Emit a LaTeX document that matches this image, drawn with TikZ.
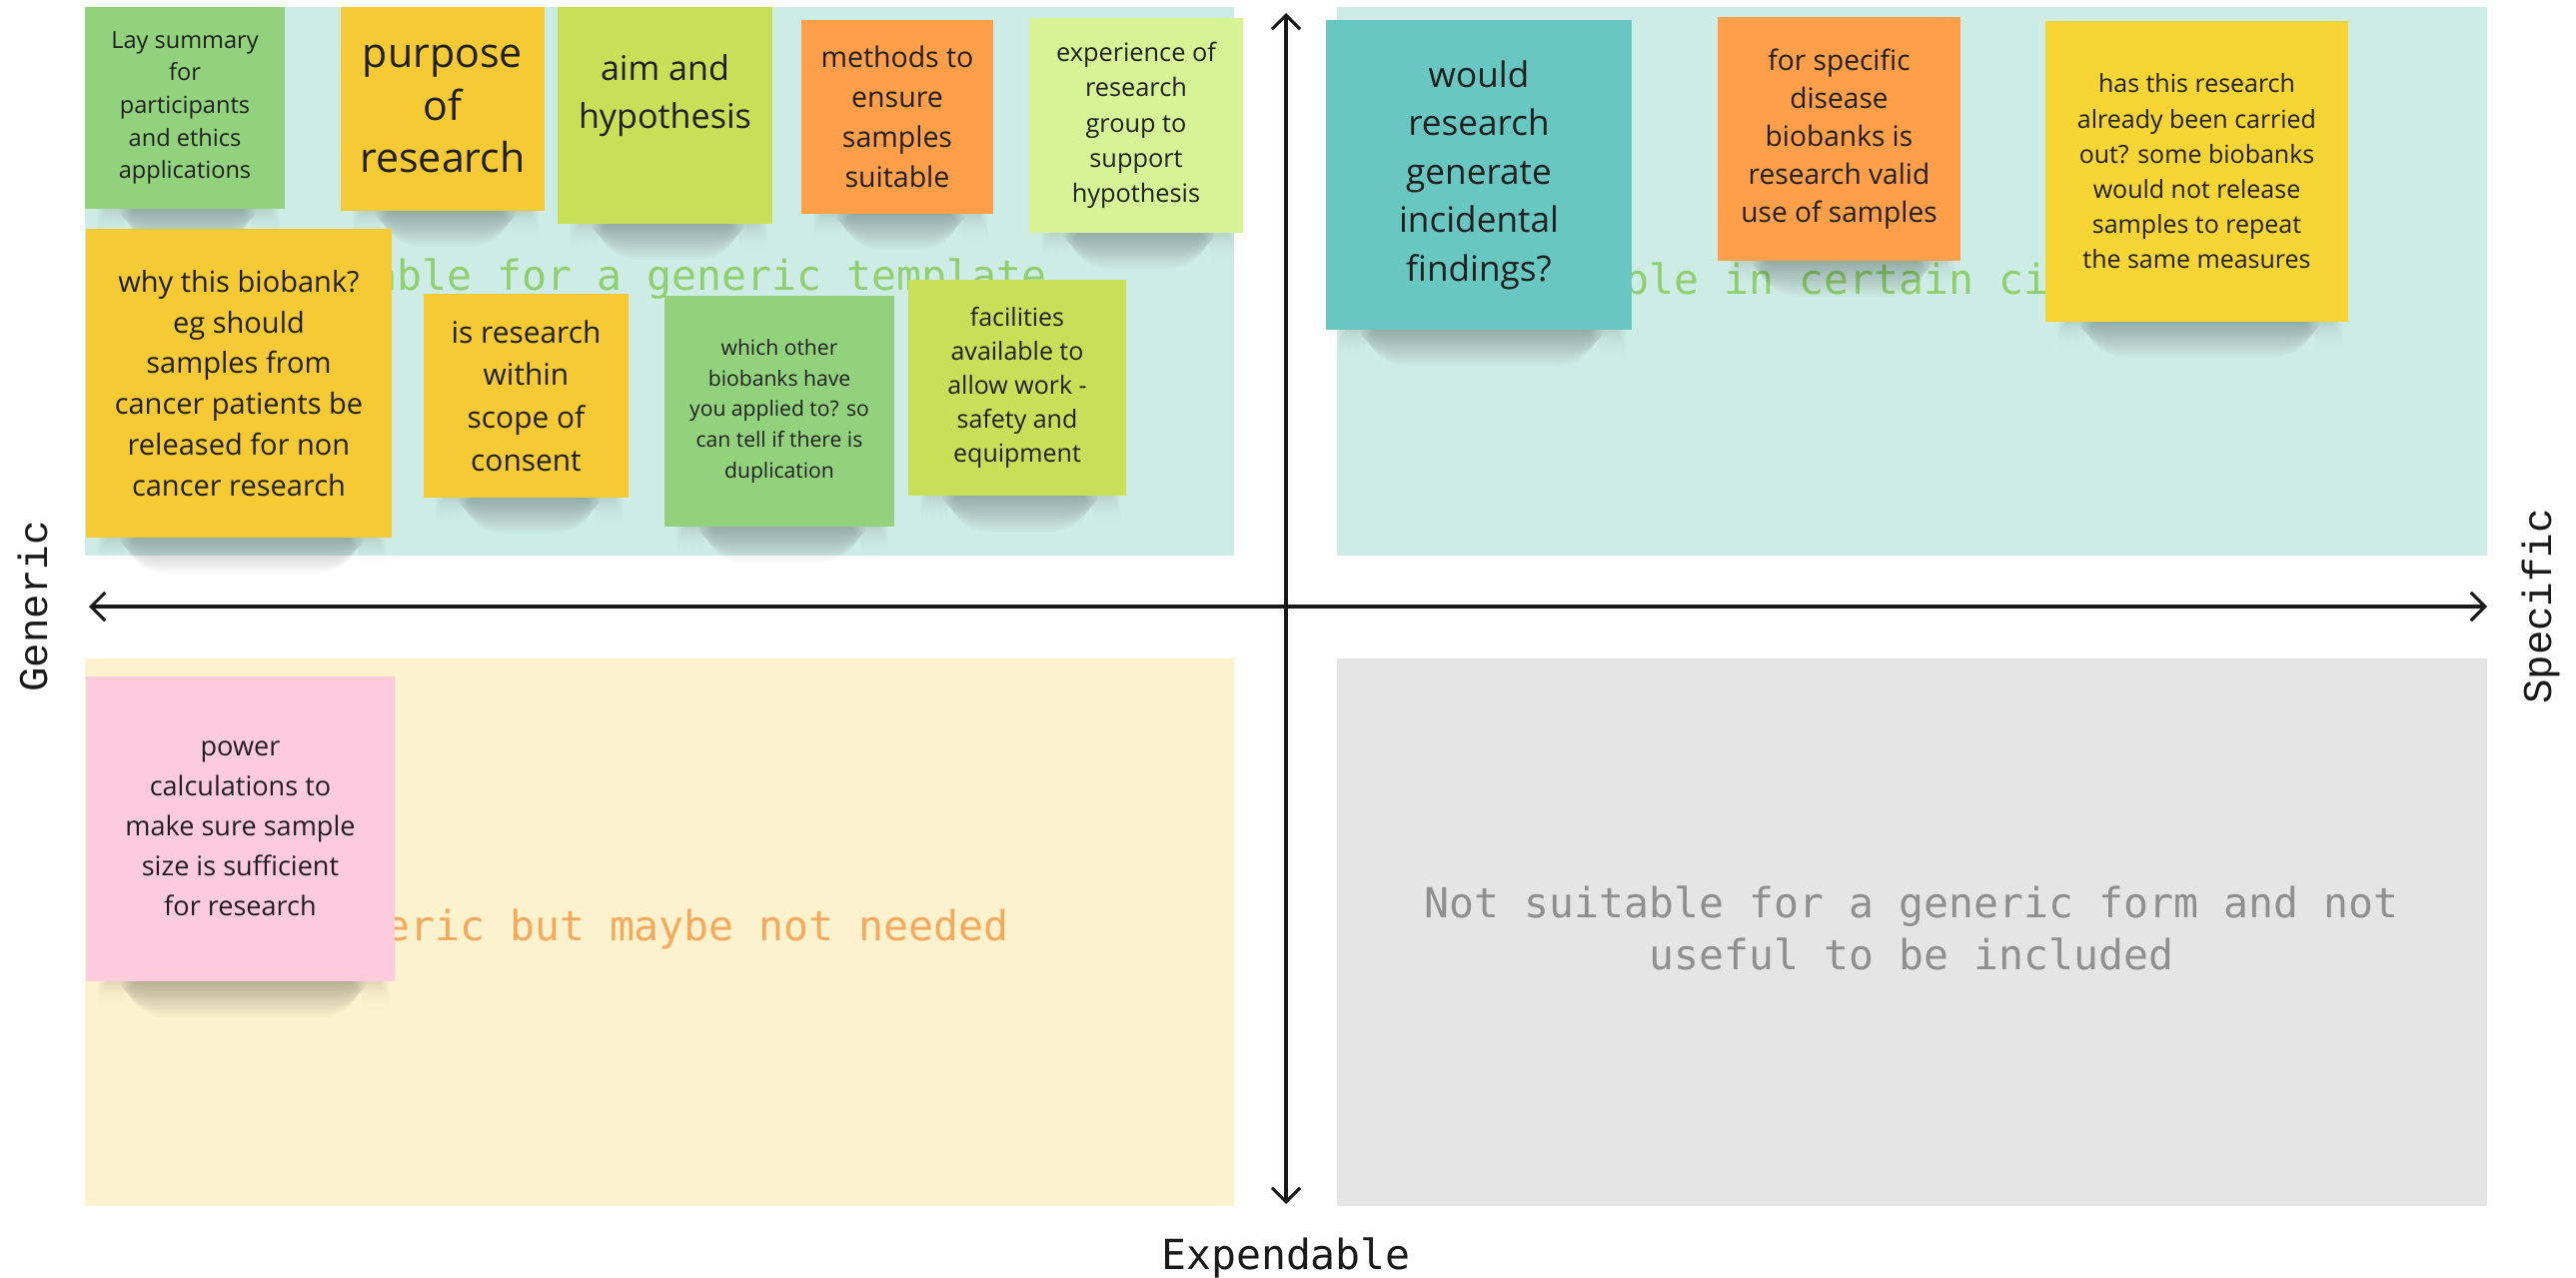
\documentclass[tikz,border=0pt]{standalone}
\usepackage{fontspec}
\setmainfont{Open Sans}
\newfontfamily\plexmono{DejaVu Sans Mono}
\newfontfamily\courmono{Liberation Mono}
\usetikzlibrary{arrows.meta}
\definecolor{qteal}{HTML}{CDECE5}
\definecolor{qcream}{HTML}{FCF2CE}
\definecolor{qgrey}{HTML}{E5E5E5}
\definecolor{ngreen}{HTML}{93D27C}
\definecolor{nyellow}{HTML}{F5CA35}
\definecolor{nyellowb}{HTML}{F6D534}
\definecolor{nlime}{HTML}{CADF58}
\definecolor{nlight}{HTML}{D6F495}
\definecolor{norange}{HTML}{FF9F4A}
\definecolor{nteal}{HTML}{68C8C1}
\definecolor{npink}{HTML}{FDCADE}
\definecolor{notetext}{HTML}{1F1F1F}
\definecolor{tgreen}{HTML}{8FCF6E}
\definecolor{torange}{HTML}{F5A95C}
\definecolor{tgrey}{HTML}{8F8F8F}
\definecolor{axiscol}{HTML}{1A1A1A}
\newcommand\stickyshadow[3]{%
  \foreach \i in {0,...,13}{%
    \fill[black,opacity=0.018,rounded corners=12] ({#1+12+\i*2},{#3-14}) rectangle ({#2-6-\i*2},{#3+2+\i*2.6});
  }%
}
\begin{document}
\begin{tikzpicture}[x=0.01cm,y=-0.01cm,
  note/.style={fill=#1, text=notetext, align=center, inner sep=0pt, anchor=center},
  quad/.style={fill=#1},
  qtitle/.style={font=\plexmono\fontsize{11.8}{14.8}\selectfont, text=#1, align=center},
  axis/.style={line width=0.9pt, draw=axiscol, line cap=round,
    {Straight Barb[length=4pt,width=8pt,line width=0.9pt]}-{Straight Barb[length=4pt,width=8pt,line width=0.9pt]}},
  axlabel/.style={font=\courmono\fontsize{11.6}{14}\selectfont, text=axiscol}
]
\fill[white] (0,0) rectangle (2578,1279);
\useasboundingbox (0,0) rectangle (2578,1279);

% quadrants
\fill[quad=qteal] (85,7) rectangle (1235,556);
\fill[quad=qteal] (1338,7) rectangle (2489,556);
\fill[quad=qcream] (85,659) rectangle (1235,1207);
\fill[quad=qgrey] (1338,659) rectangle (2489,1207);

% quadrant titles
\node[qtitle=tgreen] (t1) at (660,279) {Suitable for a generic template};
\node[qtitle=tgreen] (t2) at (1913,279) {Suitable in certain circumstances};
\node[qtitle=torange] (t3) at (660,930) {Generic but maybe not needed};
\node[qtitle=tgrey] (t4) at (1913,929) {Not suitable for a generic form and not\\useful to be included};

% axes
\coordinate (vtop) at (1287,13);
\coordinate (vbot) at (1287,1205);
\coordinate (hleft) at (89,607);
\coordinate (hright) at (2489,607);
\draw[axis] (vbot) -- (vtop);
\draw[axis] (hleft) -- (hright);
\node[axlabel, rotate=90] (lgen) at (33,607) {Generic};
\node[axlabel, rotate=90] (lspec) at (2543,607) {Specific};
\node[font=\plexmono\fontsize{11.8}{14}\selectfont, text=axiscol] (lexp) at (1287,1259) {Expendable};

% shadows
\stickyshadow{85}{285}{209}
\stickyshadow{341}{545}{211}
\stickyshadow{558}{773}{224}
\stickyshadow{802}{994}{214}
\stickyshadow{1030}{1244}{233}
\stickyshadow{86}{392}{538}
\stickyshadow{424}{629}{498}
\stickyshadow{665}{895}{527}
\stickyshadow{909}{1127}{496}
\stickyshadow{1327}{1633}{330}
\stickyshadow{1719}{1962}{261}
\stickyshadow{2047}{2350}{322}
\stickyshadow{86}{395}{982}

% sticky notes
\node[note=ngreen, minimum width=2.00cm, minimum height=2.02cm, font=\fontsize{6.7}{9.3}\selectfont] (n1) at (185,108) {Lay summary\\for\\participants\\and ethics\\applications};
\node[note=nyellow, minimum width=2.04cm, minimum height=2.04cm, font=\fontsize{11.7}{14.8}\selectfont] (n2) at (443,109) {purpose\\of\\research};
\node[note=nlime, minimum width=2.15cm, minimum height=2.17cm, font=\fontsize{9.7}{13.7}\selectfont] (n3) at (665.5,115.5) {aim and\\hypothesis\\[0pt]};
\node[note=norange, minimum width=1.92cm, minimum height=1.94cm, font=\fontsize{8.1}{11.4}\selectfont] (n4) at (898,117) {methods to\\ensure\\samples\\suitable};
\node[note=nlight, minimum width=2.14cm, minimum height=2.15cm, font=\fontsize{7.2}{10}\selectfont] (n5) at (1137,125.5) {experience of\\research\\group to\\support\\hypothesis};
\node[note=nyellow, minimum width=3.06cm, minimum height=3.09cm, font=\fontsize{8.25}{11.6}\selectfont] (n6) at (239,383.5) {why this biobank?\\eg should\\samples from\\cancer patients be\\released for non\\cancer research};
\node[note=nyellow, minimum width=2.05cm, minimum height=2.04cm, font=\fontsize{8.5}{12.1}\selectfont] (n7) at (526.5,396) {is research\\within\\scope of\\consent};
\node[note=ngreen, minimum width=2.30cm, minimum height=2.31cm, font=\fontsize{6}{8.8}\selectfont] (n8) at (780,411.5) {which other\\biobanks have\\you applied to? so\\can tell if there is\\duplication};
\node[note=nlime, minimum width=2.18cm, minimum height=2.16cm, font=\fontsize{7.1}{9.7}\selectfont] (n9) at (1018,388) {facilities\\available to\\allow work -\\safety and\\equipment};
\node[note=nteal, minimum width=3.06cm, minimum height=3.10cm, font=\fontsize{10}{13.8}\selectfont] (n10) at (1480,175) {would\\research\\generate\\incidental\\findings?};
\node[note=norange, minimum width=2.43cm, minimum height=2.44cm, font=\fontsize{8}{10.8}\selectfont] (n11) at (1840.5,139) {for specific\\disease\\biobanks is\\research valid\\use of samples};
\node[note=nyellowb, minimum width=3.03cm, minimum height=3.01cm, font=\fontsize{7.1}{10}\selectfont] (n12) at (2198.5,171.5) {has this research\\already been carried\\out? some biobanks\\would not release\\samples to repeat\\the same measures};
\node[note=npink, minimum width=3.09cm, minimum height=3.05cm, font=\fontsize{7.7}{11.4}\selectfont] (n13) at (240.5,829.5) {power\\calculations to\\make sure sample\\size is sufficient\\for research};
\end{tikzpicture}
\end{document}
